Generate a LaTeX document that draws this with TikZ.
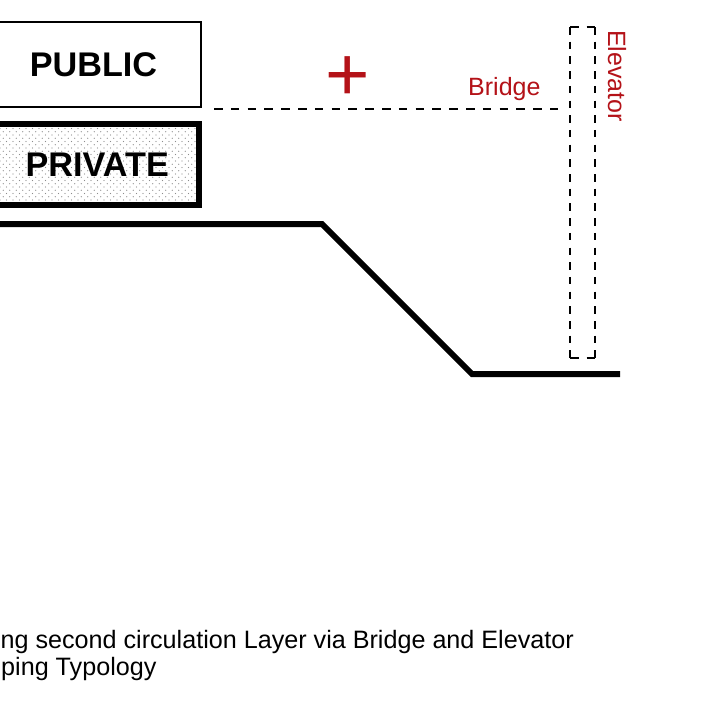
\documentclass[tikz,border=0pt]{standalone}
\usepackage{fontspec}
\setmainfont{Liberation Sans}
\usetikzlibrary{patterns}
\definecolor{darkred}{RGB}{180,18,24}
\definecolor{dotgray}{RGB}{140,140,140}
\pgfdeclarepatternformonly{mydots}{\pgfqpoint{-1pt}{-1pt}}{\pgfqpoint{4.5pt}{4.5pt}}{\pgfqpoint{6.5pt}{6.5pt}}{%
  \pgfpathcircle{\pgfqpoint{0pt}{0pt}}{0.65pt}%
  \pgfpathcircle{\pgfqpoint{3.25pt}{3.25pt}}{0.65pt}%
  \pgfusepath{fill}}
\tikzset{
  boxlabel/.style={font=\fontsize{34.2}{40}\selectfont\bfseries, inner sep=0pt},
  pubbox/.style={draw, line width=2.5pt, boxlabel},
  privbox/.style={draw, line width=6pt, boxlabel, preaction={fill=white}, pattern=mydots, pattern color=dotgray},
  ground/.style={line width=6pt},
  bridgeline/.style={line width=2pt, dash pattern=on 8.5pt off 8.3pt},
  elevside/.style={line width=2pt, dash pattern=on 7.5pt off 7.2pt},
  elevtop/.style={line width=2pt, dash pattern=on 8.5pt off 8pt},
  redlabel/.style={text=darkred, font=\fontsize{25}{30}\selectfont, inner sep=0pt},
  caption/.style={font=\fontsize{25.15}{29}\selectfont, inner sep=0pt}
}
\begin{document}
\begin{tikzpicture}[x=1pt, y=-1pt]
\useasboundingbox (0,0) rectangle (720,720);
\clip (0,0) rectangle (720,720);
\fill[white] (0,0) rectangle (720,720);
% boxes
\node[pubbox, minimum width=215pt, minimum height=85pt] (public) at (93.5,64.5) {PUBLIC};
\node[privbox, minimum width=202.5pt, minimum height=80.5pt] (private) at (97.25,164.25) {PRIVATE};
% ground
\coordinate (g0) at (-20,224);
\coordinate (g1) at (322,224);
\coordinate (g2) at (472,374);
\coordinate (g3) at (620,374);
\draw[ground] (g0) -- (g1) -- (g2) -- (g3);
% elevator
\coordinate (eTL) at (570,27);
\coordinate (eTR) at (595,27);
\coordinate (eBL) at (570,358);
\coordinate (eBR) at (595,358);
\draw[elevtop] (eTL) -- (eTR);
\draw[elevtop] (eBL) -- (eBR);
\draw[elevside] (eTL) -- (eBL);
\draw[elevside] (eTR) -- (eBR);
% bridge
\coordinate (brS) at (214,108.5);
\coordinate (brE) at (558,108.5);
\draw[bridgeline] (brS) -- (brE);
\node[redlabel, anchor=base west] (bridge) at (468,95) {Bridge};
\node[redlabel, anchor=base west, rotate=-90] (elevator) at (608,30) {Elevator};
% plus
\node[text=darkred, font=\fontsize{76}{80}\selectfont, inner sep=0pt, anchor=base west] (plus) at (324.8,100.3) {+};
% caption
\node[caption, anchor=base east] (cap1) at (574,648) {ng second circulation Layer via Bridge and Elevator};
\node[caption, anchor=base west] (cap2) at (1,675) {ping Typology};
\end{tikzpicture}
\end{document}
